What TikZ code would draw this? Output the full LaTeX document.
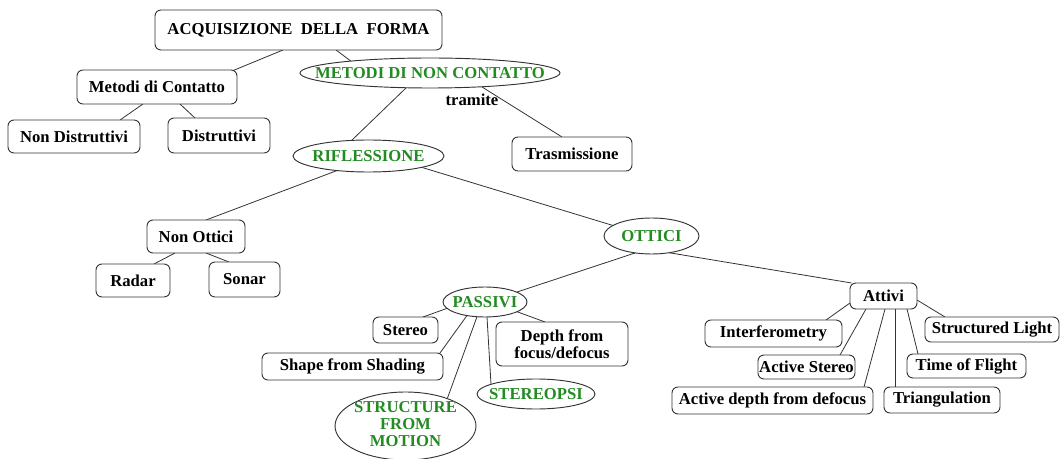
\documentclass[tikz,border=0pt]{standalone}
\usepackage{fontspec}
\setmainfont{Liberation Serif}
\usetikzlibrary{shapes.geometric,backgrounds}
\definecolor{ovalgreen}{RGB}{34,139,34}
\newcommand{\ovaltext}[1]{\makebox[0pt]{#1}}
\tikzset{
  rbox/.style={draw=black!80, line width=0.7pt, rounded corners=4.5pt, fill=white, inner sep=0pt, align=center},
  oval/.style={ellipse, draw=black!80, line width=0.7pt, fill=white, inner sep=0pt, text=ovalgreen},
  sz/.style 2 args={minimum width=#1*0.75pt, minimum height=#2*0.75pt},
  link/.style={draw=black!80, line width=0.6pt}
}
\begin{document}
\begin{tikzpicture}[x=0.75pt, y=-0.75pt, font=\fontsize{12.5}{13}\selectfont\bfseries]
        \useasboundingbox (0,0) rectangle (1062,459);
        % top levels
        \node[rbox, sz={287}{40}] (acq) at (298.5,30) {ACQUISIZIONE\ \ DELLA\ \ FORMA};
        \node[rbox, sz={160}{34}] (contatto) at (157,87) {Metodi di Contatto};
        \node[oval, sz={260}{30}] (nc) at (430,73) {\ovaltext{METODI DI NON CONTATTO}};
        \node[inner sep=0pt] (tramite) at (472,100) {tramite};
        \node[rbox, sz={132}{33}] (nondistr) at (74,136.5) {Non Distruttivi};
        \node[rbox, sz={102}{35}] (distr) at (219,135.5) {Distruttivi};
        \node[oval, sz={151}{32}] (rifl) at (368.5,156) {\ovaltext{RIFLESSIONE}};
        \node[rbox, sz={120}{34}] (trasm) at (572,154) {Trasmissione};
        % riflessione
        \node[rbox, sz={98}{33}] (nonottici) at (196,236.5) {Non Ottici};
        \node[oval, sz={95}{36}] (ottici) at (651.5,236) {\ovaltext{OTTICI}};
        \node[rbox, sz={74}{33}] (radar) at (133,280.5) {Radar};
        \node[rbox, sz={71}{35}] (sonar) at (244.5,279.5) {Sonar};
        \node[oval, sz={84}{30}] (passivi) at (485,302) {\ovaltext{PASSIVI}};
        \node[rbox, sz={67}{26}] (attivi) at (883.5,296) {Attivi};
        % passivi
        \node[rbox, sz={65}{26}] (stereo) at (405.5,330) {Stereo};
        \node[rbox, sz={132}{44}] (depth) at (562,344) {Depth from\\focus/defocus};
        \node[rbox, sz={181}{27}] (shape) at (352.5,366.5) {Shape from Shading};
        \node[oval, sz={118}{30}] (stereopsi) at (536,394) {\ovaltext{STEREOPSI}};
        \node[oval, sz={141}{68}, inner ysep=-1.5pt] (sfm) at (405.5,426) {\ovaltext{\begin{tabular}{@{}c@{}}STRUCTURE\\FROM\\MOTION\end{tabular}}};
        % attivi
        \node[rbox, sz={137}{27}] (interf) at (773.5,333.5) {Interferometry};
        \node[rbox, sz={134}{25}] (slight) at (992,329.5) {Structured Light};
        \node[rbox, sz={97}{24}] (astereo) at (806.5,367) {Active Stereo};
        \node[rbox, sz={119}{24}] (tof) at (966.5,366) {Time of Flight};
        \node[rbox, sz={201}{27}] (adepth) at (772.5,400.5) {Active depth from defocus};
        \node[rbox, sz={116}{26}] (triang) at (942,400) {Triangulation};
        % links behind the nodes
        \begin{scope}[on background layer]
        \draw[link] ([shift={(-15.5,20)}]acq.center) -- ([shift={(75,-16)}]contatto.center);
        \draw[link] ([shift={(37.5,20)}]acq.center) -- ([shift={(-78,-11)}]nc.center);
        \draw[link] ([shift={(-23,14)}]nc.center) -- ([shift={(-18.5,-14)}]rifl.center);
        \draw[link] ([shift={(52,14)}]nc.center) -- ([shift={(-10,-17)}]trasm.center);
        \draw[link] ([shift={(-14,17)}]contatto.center) -- ([shift={(46,-16.5)}]nondistr.center);
        \draw[link] ([shift={(23,17)}]contatto.center) -- ([shift={(-24,-17.5)}]distr.center);
        \draw[link] ([shift={(-30,14)}]rifl.center) -- ([shift={(10,-16.5)}]nonottici.center);
        \draw[link] ([shift={(52,11)}]rifl.center) -- ([shift={(-38.5,-10.5)}]ottici.center);
        \draw[link] ([shift={(-21,16.5)}]nonottici.center) -- ([shift={(21,-16.5)}]radar.center);
        \draw[link] ([shift={(10,16.5)}]nonottici.center) -- ([shift={(-15.5,-17.5)}]sonar.center);
        \draw[link] ([shift={(-16.5,17)}]ottici.center) -- ([shift={(32,-10)}]passivi.center);
        \draw[link] ([shift={(17.5,16.7)}]ottici.center) -- ([shift={(-32,-13)}]attivi.center);
        \draw[link] ([shift={(-37,6)}]passivi.center) -- ([shift={(17.5,-13)}]stereo.center);
        \draw[link] ([shift={(-18,13.5)}]passivi.center) -- ([shift={(87.5,-13.5)}]shape.center);
        \draw[link] ([shift={(-8,14.7)}]passivi.center) -- ([shift={(42,-28)}]sfm.center);
        \draw[link] ([shift={(2,15)}]passivi.center) -- ([shift={(-45,-9.7)}]stereopsi.center);
        \draw[link] ([shift={(32,9.7)}]passivi.center) -- ([shift={(-17,-22)}]depth.center);
        \draw[link] ([shift={(-33.5,7)}]attivi.center) -- ([shift={(52.5,-13.5)}]interf.center);
        \draw[link] ([shift={(-17.5,13)}]attivi.center) -- ([shift={(33.5,-12)}]astereo.center);
        \draw[link] ([shift={(1.5,13)}]attivi.center) -- ([shift={(91.5,-13.5)}]adepth.center);
        \draw[link] ([shift={(11.5,13)}]attivi.center) -- ([shift={(-47,-13)}]triang.center);
        \draw[link] ([shift={(23.5,13)}]attivi.center) -- ([shift={(-48.5,-12)}]tof.center);
        \draw[link] ([shift={(33.5,4)}]attivi.center) -- ([shift={(-47,-12.5)}]slight.center);
        \end{scope}
\end{tikzpicture}
\end{document}
